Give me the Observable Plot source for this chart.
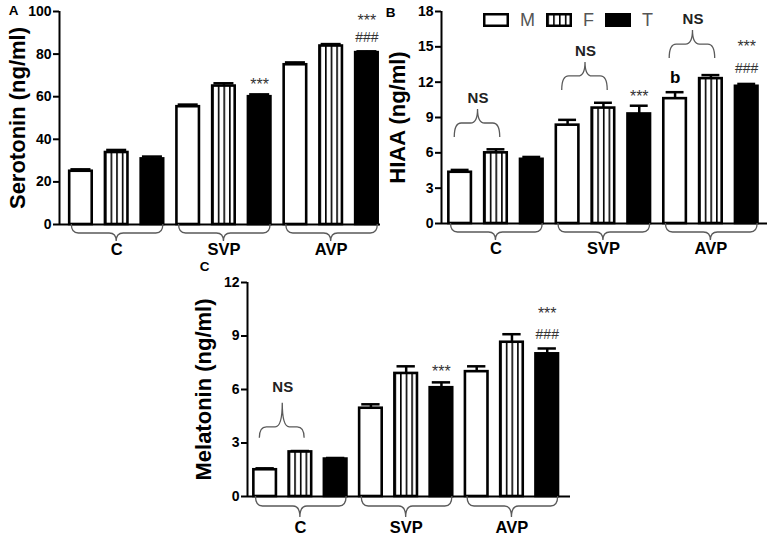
<!DOCTYPE html>
<html><head><meta charset="utf-8">
<script src="https://cdn.jsdelivr.net/npm/d3@7"></script>
<script src="https://cdn.jsdelivr.net/npm/@observablehq/plot@0.6"></script>
<style>
body{margin:0;background:#fff;}
#fig{position:relative;width:769px;height:538px;overflow:hidden;background:#fff;font-family:"Liberation Sans",Arial,sans-serif;}
#legend{position:absolute;left:483px;top:11px;display:flex;align-items:center;}
#legend span.t{font-size:18px;color:#555;margin:0 10px 0 11px;line-height:1;}
#legend svg{display:block;}
</style></head><body>
<div id="fig">
<svg width="0" height="0" style="position:absolute">
<defs><pattern id="stripes" patternUnits="objectBoundingBox" width="0.25" height="1">
<rect x="0" y="0" width="200" height="2000" fill="white"/>
<rect x="0" y="0" width="1.6" height="2000" fill="black"/>
</pattern></defs></svg>
<div id="legend"></div>
</div>
<script>
// ---- categories ----
const groups = ["C", "SVP", "AVP"];
const series = ["M", "F", "T"];

// ---- Panel A: Serotonin (ng/ml) ----
const serotoninM = [25.0, 55.3, 75.0];
const serotoninF = [33.8, 65.0, 83.8];
const serotoninT = [30.8, 60.0, 80.7];
const serotoninErrM = [0.9, 1.0, 1.1];
const serotoninErrF = [1.2, 1.3, 0.9];
const serotoninErrT = [1.1, 1.1, 0.6];
const serotoninTicks = [0, 20, 40, 60, 80, 100];
const serotoninMarks = [["SVP", "T", 67.6, "***"], ["AVP", "T", 97.7, "***"], ["AVP", "T", 87.8, "###"]];
const serotoninNS = [];

// ---- Panel B: HIAA (ng/ml) ----
const hiaaM = [4.35, 8.35, 10.6];
const hiaaF = [6.0, 9.8, 12.3];
const hiaaT = [5.45, 9.3, 11.65];
const hiaaErrM = [0.2, 0.45, 0.55];
const hiaaErrF = [0.3, 0.45, 0.3];
const hiaaErrT = [0.2, 0.7, 0.2];
const hiaaTicks = [0, 3, 6, 9, 12, 15, 18];
const hiaaMarks = [["SVP", "T", 11.1, "***"], ["AVP", "T", 15.3, "***"], ["AVP", "T", 13.2, "###"], ["AVP", "M", 12.4, "b"]];
const hiaaNS = [["C", 7.3], ["SVP", 11.3], ["AVP", 14.0]];

// ---- Panel C: Melatonin (ng/ml) ----
const melatoninM = [1.5, 4.95, 7.0];
const melatoninF = [2.5, 6.9, 8.65];
const melatoninT = [2.1, 6.1, 8.0];
const melatoninErrM = [0.08, 0.22, 0.3];
const melatoninErrF = [0.05, 0.4, 0.45];
const melatoninErrT = [0.06, 0.3, 0.3];
const melatoninTicks = [0, 3, 6, 9, 12];
const melatoninMarks = [["SVP", "T", 7.2, "***"], ["AVP", "T", 10.45, "***"], ["AVP", "T", 9.1, "###"]];
const melatoninNS = [["C", 3.26]];

const fills = {M: "white", F: "url(#stripes)", T: "black"};
const posOf = (g, s) => groups.indexOf(g) * 3 + series.indexOf(s);
const FONT = "Liberation Sans, Arial, sans-serif";

function bracePath(x1, xm, x2, y0, dir, a, b, r) {
  const ym = y0 + dir * a, yp = ym + dir * b;
  return `M${x1},${y0}Q${x1},${ym} ${x1 + r},${ym}L${xm - r},${ym}Q${xm},${ym} ${xm},${yp}` +
         `Q${xm},${ym} ${xm + r},${ym}L${x2 - r},${ym}Q${x2},${ym} ${x2},${y0}`;
}
function braceMark(items, dir, a, b, r) {
  return (index, scales) => {
    const g = d3.create("svg:g").attr("fill", "none").attr("stroke", "#5a5a5a").attr("stroke-width", 1.3);
    for (const it of items) {
      g.append("path").attr("d", bracePath(scales.x(it.x1), scales.x(it.xm), scales.x(it.x2), scales.y(it.y), dir, a, b, r));
    }
    return g.node();
  };
}

function makePanel(cfg) {
  const rows = [];
  groups.forEach((g, gi) => series.forEach((s, si) => rows.push({
    group: g, series: s, pos: posOf(g, s), value: cfg.values[si][gi], err: cfg.errors[si][gi]
  })));
  const HW = cfg.hw, CW = cfg.cw;
  const annot = cfg.marks.map(([g, s, y, t]) => ({pos: posOf(g, s), y, t}));
  const groupBraces = groups.map(g => ({x1: posOf(g, "M") - HW + 0.06, xm: posOf(g, "F"), x2: posOf(g, "T") + HW - 0.01, y: 0}));
  const nsBraces = cfg.ns.map(([g, y]) => ({x1: posOf(g, "M") - 0.15, xm: (posOf(g, "M") + posOf(g, "F")) / 2, x2: posOf(g, "F") + 0.12, y}));
  const marks = [
    ...series.map(s => Plot.rectY(rows.filter(d => d.series === s), {
      x1: d => d.pos - HW, x2: d => d.pos + HW, y1: () => 0, y2: "value",
      fill: fills[s], stroke: "black", strokeWidth: 2.6
    })),
    Plot.ruleX(rows, {x: "pos", y1: "value", y2: d => d.value + d.err, stroke: "black", strokeWidth: 2.5}),
    Plot.ruleY(rows, {y: d => d.value + d.err, x1: d => d.pos - CW, x2: d => d.pos + CW, stroke: "black", strokeWidth: 2.5}),
    Plot.ruleY([0], {stroke: "black", strokeWidth: 2}),
    Plot.ruleX([cfg.xDomain[0]], {stroke: "black", strokeWidth: 2}),
    Plot.axisY({ticks: cfg.ticks, tickSize: 6, tickPadding: 2, strokeWidth: 2, fontSize: 14, fontWeight: "bold", label: null, tickFormat: d => String(d)}),
    braceMark(groupBraces, 1, cfg.gbA, cfg.gbB, 7),
    Plot.text(groups, {x: g => posOf(g, "F"), y: () => 0, text: d => d, dy: cfg.labelDy, fontSize: 16.5, fontWeight: "bold", lineAnchor: "middle"}),
    braceMark(nsBraces, -1, cfg.nsA, cfg.nsB, 7),
    Plot.text(nsBraces, {x: "xm", y: "y", text: () => "NS", dy: -(cfg.nsA + cfg.nsB + cfg.nsGap), fontSize: 15, fontWeight: "bold", fill: "#222", lineAnchor: "middle"}),
    Plot.text(annot.filter(d => d.t === "***"), {x: "pos", y: "y", text: "t", dy: 4, fontSize: 16, fontWeight: "normal", fill: "#333", lineAnchor: "middle"}),
    Plot.text(annot.filter(d => d.t === "###"), {x: "pos", y: "y", text: "t", fontSize: 14, fontWeight: "normal", fill: "#333", lineAnchor: "middle"}),
    Plot.text(annot.filter(d => d.t === "b"), {x: "pos", y: "y", text: "t", fontSize: 17, fontWeight: "bold", lineAnchor: "middle"}),
    Plot.text([cfg.ylabel], {frameAnchor: "left", rotate: -90, text: d => d, dx: cfg.ylabelDx, fontSize: 22, fontWeight: "bold", textAnchor: "middle", lineAnchor: "middle"}),
    Plot.text([cfg.letter], {frameAnchor: "top-left", text: d => d, dx: cfg.letterDx, dy: cfg.letterDy, fontSize: 13.5, fontWeight: "bold", textAnchor: "middle", lineAnchor: "middle"})
  ];
  const svg = Plot.plot({
    width: cfg.width, height: cfg.height,
    marginLeft: cfg.ml, marginRight: cfg.mr, marginTop: cfg.mt, marginBottom: cfg.mb,
    x: {type: "linear", domain: cfg.xDomain, axis: null},
    y: {domain: cfg.yDomain, axis: null},
    style: {fontFamily: FONT, fontSize: "13px", color: "black", background: "none", overflow: "visible"},
    marks
  });
  svg.style.position = "absolute";
  svg.style.left = cfg.left + "px";
  svg.style.top = cfg.top + "px";
  svg.style.maxWidth = "none";
  document.getElementById("fig").appendChild(svg);
}

makePanel({
  letter: "A", ylabel: "Serotonin (ng/ml)",
  values: [serotoninM, serotoninF, serotoninT], errors: [serotoninErrM, serotoninErrF, serotoninErrT],
  ticks: serotoninTicks, yDomain: [0, 100], xDomain: [-0.6, 8.38],
  marks: serotoninMarks, ns: serotoninNS,
  left: 0, top: 0, width: 385, height: 262, ml: 59, mr: 5, mt: 11, mb: 38,
  hw: 0.315, cw: 0.28, gbA: 9, gbB: 8, labelDy: 25, nsA: 13, nsB: 13, nsGap: 11,
  ylabelDx: -42, letterDx: -46, letterDy: -1
});
makePanel({
  letter: "B", ylabel: "HIAA (ng/ml)",
  values: [hiaaM, hiaaF, hiaaT], errors: [hiaaErrM, hiaaErrF, hiaaErrT],
  ticks: hiaaTicks, yDomain: [0, 18], xDomain: [-0.52, 8.58],
  marks: hiaaMarks, ns: hiaaNS,
  left: 385, top: 0, width: 384, height: 262, ml: 56, mr: 2, mt: 11, mb: 39,
  hw: 0.315, cw: 0.25, gbA: 9, gbB: 8, labelDy: 25, nsA: 14, nsB: 14, nsGap: 11,
  ylabelDx: -44, letterDx: -51, letterDy: 1
});
makePanel({
  letter: "C", ylabel: "Melatonin (ng/ml)",
  values: [melatoninM, melatoninF, melatoninT], errors: [melatoninErrM, melatoninErrF, melatoninErrT],
  ticks: melatoninTicks, yDomain: [0, 12], xDomain: [-0.5, 8.66],
  marks: melatoninMarks, ns: melatoninNS,
  left: 190, top: 250, width: 390, height: 288, ml: 57, mr: 10, mt: 32, mb: 42,
  hw: 0.32, cw: 0.26, gbA: 10, gbB: 11, labelDy: 31, nsA: 11, nsB: 24, nsGap: 16,
  ylabelDx: -44, letterDx: -43, letterDy: -16
});

// ---- legend (inside panel B) ----
const legend = document.getElementById("legend");
series.forEach((s, i) => {
  const sw = document.createElementNS("http://www.w3.org/2000/svg", "svg");
  sw.setAttribute("width", 26); sw.setAttribute("height", 14);
  if (i > 0) sw.style.marginLeft = "1px";
  const r = document.createElementNS("http://www.w3.org/2000/svg", "rect");
  r.setAttribute("x", 1.25); r.setAttribute("y", 1.25); r.setAttribute("width", 23.5); r.setAttribute("height", 11.5);
  r.setAttribute("fill", fills[s]); r.setAttribute("stroke", "black"); r.setAttribute("stroke-width", 2.5);
  sw.appendChild(r);
  legend.appendChild(sw);
  const t = document.createElement("span");
  t.className = "t"; t.textContent = s;
  legend.appendChild(t);
});
</script>
</body></html>
